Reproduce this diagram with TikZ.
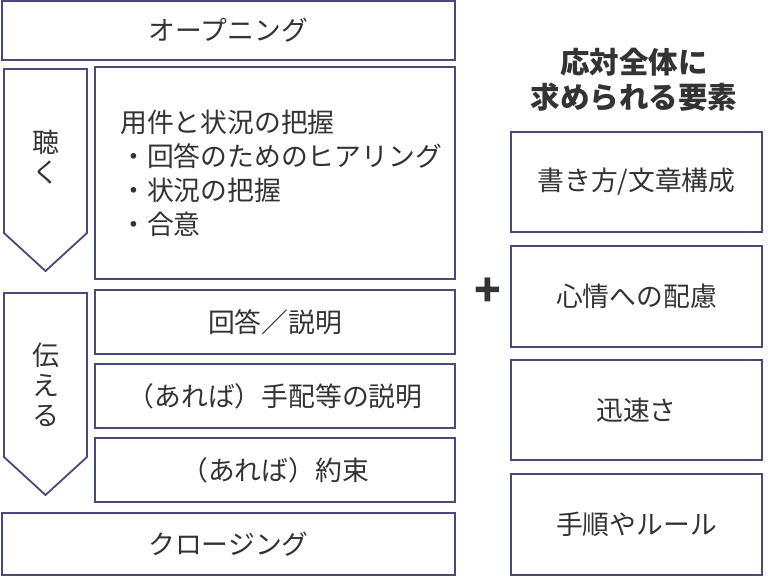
\documentclass[tikz,border=0pt]{standalone}
\usepackage{fontspec}
\setmainfont{Noto Sans CJK JP}
\definecolor{frame}{RGB}{74,74,122}
\definecolor{txt}{RGB}{51,51,51}
\begin{document}
\begin{tikzpicture}[x=1pt,y=-1pt,
  box/.style={draw=frame,line width=1.8pt,fill=white,inner sep=0pt,text=txt,
    font=\fontsize{26.8}{34}\selectfont},
  shp/.style={draw=frame,line width=1.8pt,line join=miter},
  vtext/.style={text=txt,align=center,inner sep=0pt,font=\fontsize{27}{30}\selectfont},
  ttl/.style={text=txt,align=center,inner sep=0pt,font=\bfseries\fontsize{29.5}{35}\selectfont}]
\useasboundingbox (0,0) rectangle (768,576);
% left column
\node[box,minimum width=453pt,minimum height=59pt] (open) at (228.5,30.5) {オープニング};
\draw[shp] (4,69) -- (87,69) -- (87,233) -- (45.5,271) -- (4,233) -- cycle;
\node[vtext] (kiku) at (45.5,157) {聴\\く};
\node[box,minimum width=360pt,minimum height=212pt] (hear) at (275,173) {};
\node[text=txt,align=left,anchor=west,inner sep=0pt,font=\fontsize{26.8}{34}\selectfont] (heart) at (120,173)
  {用件と状況の把握\\・回答のためのヒアリング\\・状況の把握\\・合意};
\draw[shp] (4,293) -- (87,293) -- (87,457) -- (45.5,495) -- (4,457) -- cycle;
\node[vtext] (tsutaeru) at (45.5,385) {伝\\え\\る};
\node[box,minimum width=360pt,minimum height=64pt] (ans) at (275,322) {回答／説明};
\node[box,minimum width=360pt,minimum height=64pt] (arr) at (275,396) {（あれば）手配等の説明};
\node[box,minimum width=360pt,minimum height=64pt] (prom) at (275,470) {（あれば）約束};
\node[box,minimum width=453pt,minimum height=62pt] (close) at (228.5,544) {クロージング};
% plus
\node[text=txt,inner sep=0pt,font=\bfseries\fontsize{44}{44}\selectfont] (plus) at (488,292) {+};
% right column
\node[ttl] (title) at (634,80) {応対全体に\\求められる要素};
\node[box,minimum width=251pt,minimum height=100pt] (r1) at (636.5,182) {書き方/文章構成};
\node[box,minimum width=251pt,minimum height=101pt] (r2) at (636.5,296.5) {心情への配慮};
\node[box,minimum width=251pt,minimum height=100pt] (r3) at (636.5,410) {迅速さ};
\node[box,minimum width=251pt,minimum height=101pt] (r4) at (636.5,524.5) {手順やルール};
\end{tikzpicture}
\end{document}
